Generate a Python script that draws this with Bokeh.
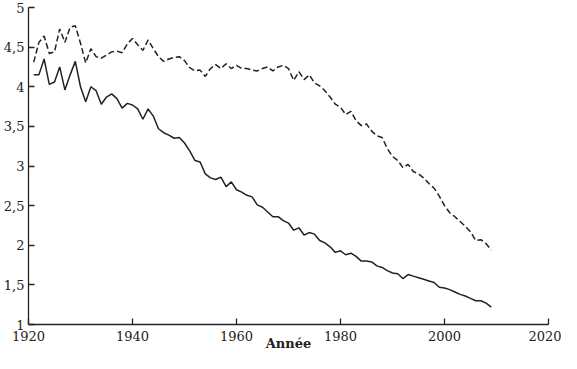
from bokeh.plotting import figure
from bokeh.models import Range1d, FixedTicker, CustomJSTickFormatter
from bokeh.embed import file_html
from bokeh.resources import INLINE

years = [1921, 1922, 1923, 1924, 1925, 1926, 1927, 1928, 1929, 1930,
         1931, 1932, 1933, 1934, 1935, 1936, 1937, 1938, 1939, 1940,
         1941, 1942, 1943, 1944, 1945, 1946, 1947, 1948, 1949, 1950,
         1951, 1952, 1953, 1954, 1955, 1956, 1957, 1958, 1959, 1960,
         1961, 1962, 1963, 1964, 1965, 1966, 1967, 1968, 1969, 1970,
         1971, 1972, 1973, 1974, 1975, 1976, 1977, 1978, 1979, 1980,
         1981, 1982, 1983, 1984, 1985, 1986, 1987, 1988, 1989, 1990,
         1991, 1992, 1993, 1994, 1995, 1996, 1997, 1998, 1999, 2000,
         2001, 2002, 2003, 2004, 2005, 2006, 2007, 2008, 2009]

solid_values = [4.15, 4.15, 4.35, 4.03, 4.06, 4.25, 3.96, 4.15, 4.32, 4.00,
                3.81, 4.00, 3.95, 3.78, 3.87, 3.91, 3.85, 3.73, 3.79, 3.77,
                3.72, 3.59, 3.72, 3.63, 3.47, 3.42, 3.39, 3.35, 3.36, 3.29,
                3.19, 3.07, 3.05, 2.90, 2.85, 2.83, 2.86, 2.74, 2.80, 2.70,
                2.67, 2.63, 2.61, 2.51, 2.48, 2.42, 2.36, 2.36, 2.31, 2.28,
                2.19, 2.22, 2.13, 2.16, 2.14, 2.06, 2.03, 1.98, 1.91, 1.93,
                1.88, 1.90, 1.86, 1.80, 1.80, 1.79, 1.74, 1.72, 1.68, 1.65,
                1.64, 1.58, 1.63, 1.61, 1.59, 1.57, 1.55, 1.53, 1.47, 1.46,
                1.44, 1.41, 1.38, 1.36, 1.33, 1.30, 1.30, 1.27, 1.22]

dashed_values = [4.31, 4.56, 4.64, 4.42, 4.44, 4.73, 4.56, 4.75, 4.77, 4.55,
                 4.30, 4.48, 4.38, 4.36, 4.40, 4.44, 4.45, 4.43, 4.54, 4.61,
                 4.53, 4.46, 4.59, 4.48, 4.38, 4.32, 4.35, 4.37, 4.38, 4.33,
                 4.24, 4.20, 4.21, 4.13, 4.23, 4.28, 4.23, 4.29, 4.23, 4.27,
                 4.23, 4.23, 4.21, 4.20, 4.23, 4.25, 4.20, 4.25, 4.27, 4.23,
                 4.08, 4.19, 4.09, 4.15, 4.05, 4.01, 3.95, 3.87, 3.78, 3.74,
                 3.65, 3.69, 3.57, 3.51, 3.53, 3.44, 3.38, 3.36, 3.22, 3.12,
                 3.07, 2.98, 3.02, 2.93, 2.90, 2.85, 2.78, 2.72, 2.62, 2.50,
                 2.41, 2.36, 2.30, 2.24, 2.17, 2.06, 2.07, 2.02, 1.94]

x_ticks = [1920, 1940, 1960, 1980, 2000, 2020]
y_ticks = [1, 1.5, 2, 2.5, 3, 3.5, 4, 4.5, 5]
x_label = "Année"

FONT = "DejaVu Serif"
INK = "#222222"

p = figure(width=561, height=353, output_backend="svg", toolbar_location=None,
           x_range=Range1d(1920, 2020), y_range=Range1d(1, 5),
           min_border_left=25, min_border_top=7, min_border_right=13,
           min_border_bottom=0)
p.outline_line_color = None
p.grid.visible = False
p.background_fill_color = "white"

p.line(years, dashed_values, line_color=INK, line_width=1.5, line_dash="6 3")
p.line(years, solid_values, line_color=INK, line_width=1.5)

p.xaxis.ticker = FixedTicker(ticks=x_ticks)
p.yaxis.ticker = FixedTicker(ticks=y_ticks)
p.yaxis.formatter = CustomJSTickFormatter(code="return tick.toString().replace('.', ',');")

for ax in (p.xaxis, p.yaxis):
    ax.major_tick_in = 6
    ax.major_tick_out = 0
    ax.minor_tick_line_color = None
    ax.axis_line_color = INK
    ax.axis_line_width = 1.3
    ax.major_tick_line_color = INK
    ax.major_tick_line_width = 1.3
    ax.major_label_text_font = FONT
    ax.major_label_text_font_size = "13px"
    ax.major_label_text_color = INK

p.yaxis.major_label_standoff = 4
p.xaxis.major_label_standoff = 6
p.xaxis.axis_label = x_label
p.xaxis.axis_label_text_font = FONT
p.xaxis.axis_label_text_font_size = "13px"
p.xaxis.axis_label_text_font_style = "bold"
p.xaxis.axis_label_text_color = INK
p.xaxis.axis_label_standoff = -8

open("out.html", "w").write(file_html(p, INLINE))
